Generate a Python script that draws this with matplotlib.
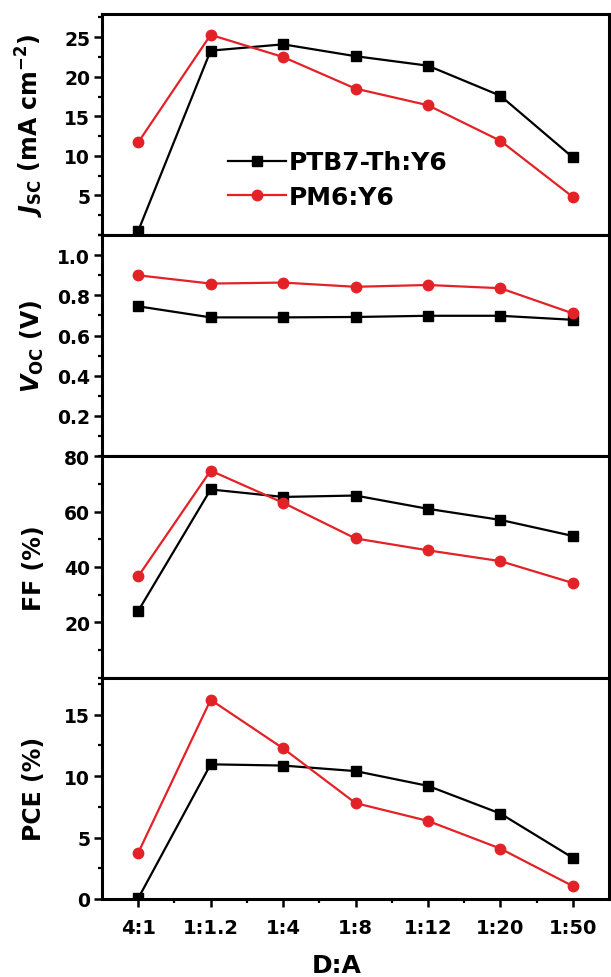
import matplotlib
matplotlib.use("Agg")
import matplotlib.pyplot as plt
from matplotlib.ticker import MultipleLocator, FixedLocator

plt.rcParams['font.family'] = ['DejaVu Sans']
plt.rcParams['font.weight'] = 'bold'
plt.rcParams['mathtext.fontset'] = 'custom'
plt.rcParams['mathtext.rm'] = 'DejaVu Sans:bold'
plt.rcParams['mathtext.it'] = 'DejaVu Sans:bold:italic'
plt.rcParams['mathtext.bf'] = 'DejaVu Sans:bold'

categories = ['4:1', '1:1.2', '1:4', '1:8', '1:12', '1:20', '1:50']
series_names = ['PTB7-Th:Y6', 'PM6:Y6']

jsc_ptb7 = [0.5, 23.3, 24.1, 22.6, 21.4, 17.6, 9.8]
jsc_pm6 = [11.7, 25.3, 22.5, 18.5, 16.4, 11.9, 4.8]

voc_ptb7 = [0.745, 0.690, 0.690, 0.692, 0.698, 0.698, 0.678]
voc_pm6 = [0.899, 0.858, 0.863, 0.842, 0.851, 0.835, 0.710]

ff_ptb7 = [24.1, 68.0, 65.3, 65.8, 61.0, 57.0, 51.2]
ff_pm6 = [36.6, 74.8, 63.2, 50.3, 46.0, 42.1, 34.2]

pce_ptb7 = [0.05, 10.95, 10.85, 10.4, 9.2, 6.95, 3.35]
pce_pm6 = [3.75, 16.2, 12.25, 7.8, 6.35, 4.1, 1.05]

ylabels = [r'$\mathit{J}_{\mathrm{SC}}$ (mA cm$^{\mathrm{-2}}$)',
           r'$\mathit{V}_{\mathrm{OC}}$ (V)', 'FF (%)', 'PCE (%)']
ylims = [(0, 28), (0, 1.1), (0, 80), (0, 18)]
yticks = [[5, 10, 15, 20, 25], [0.2, 0.4, 0.6, 0.8, 1.0], [20, 40, 60, 80], [0, 5, 10, 15]]
yminor = [2.5, 0.1, 10, 2.5]
yfmt = ['{:g}', '{:.1f}', '{:g}', '{:g}']

panels = [(jsc_ptb7, jsc_pm6), (voc_ptb7, voc_pm6), (ff_ptb7, ff_pm6), (pce_ptb7, pce_pm6)]

black = '#000000'
red = '#e32227'

fig = plt.figure(figsize=(6.11, 9.78), dpi=100)
left, right = 102 / 611, 609 / 611
top_px, bot_px = 14.5, 900
h = (bot_px - top_px) / 4
axes = []
x = list(range(len(categories)))
for i in range(4):
    y0 = 1 - (top_px + (i + 1) * h) / 978
    ax = fig.add_axes([left, y0, right - left, h / 978])
    axes.append(ax)
    a, b = panels[i]
    ax.plot(x, a, color=black, marker='s', markersize=7, lw=1.6, label=series_names[0], zorder=3)
    ax.plot(x, b, color=red, marker='o', markersize=7.5, lw=1.6, label=series_names[1], zorder=4)
    ax.set_xlim(-0.5, 6.5)
    ax.set_ylim(*ylims[i])
    ax.yaxis.set_major_locator(FixedLocator(yticks[i]))
    ax.set_yticklabels([yfmt[i].format(v) for v in yticks[i]])
    ax.yaxis.set_minor_locator(MultipleLocator(yminor[i]))
    for s in ax.spines.values():
        s.set_linewidth(2.2)
    ax.tick_params(axis='y', which='major', direction='out', length=6, width=1.8,
                   labelsize=13.5, pad=2.5, right=False)
    ax.tick_params(axis='y', which='minor', direction='out', length=3, width=1.6, right=False)
    ax.set_ylabel(ylabels[i], fontsize=17, fontweight='bold')
    ax.yaxis.set_label_coords(-0.11, 0.5)
    if i < 3:
        ax.set_xticks([])
        ax.tick_params(axis='x', which='both', bottom=False, top=False, labelbottom=False)
    else:
        ax.set_xticks(x)
        ax.set_xticklabels(categories)
        ax.xaxis.set_minor_locator(FixedLocator([k + 0.5 for k in range(6)]))
        ax.tick_params(axis='x', which='major', direction='out', length=6, width=1.8,
                       labelsize=14, pad=8, top=False)
        ax.tick_params(axis='x', which='minor', direction='out', length=3, width=1.6, top=False)
        ax.set_xlabel('D:A', fontsize=18, fontweight='bold')
        ax.xaxis.set_label_coords(0.4635, -0.245)

leg = axes[0].legend(loc='upper left', bbox_to_anchor=(0.249, 0.382), frameon=False,
                     fontsize=18, handlelength=2.3, handletextpad=0.12,
                     labelspacing=0.42, borderpad=0, borderaxespad=0, numpoints=1)
for t in leg.get_texts():
    t.set_fontweight('bold')

fig.savefig('out.png', dpi=100)
